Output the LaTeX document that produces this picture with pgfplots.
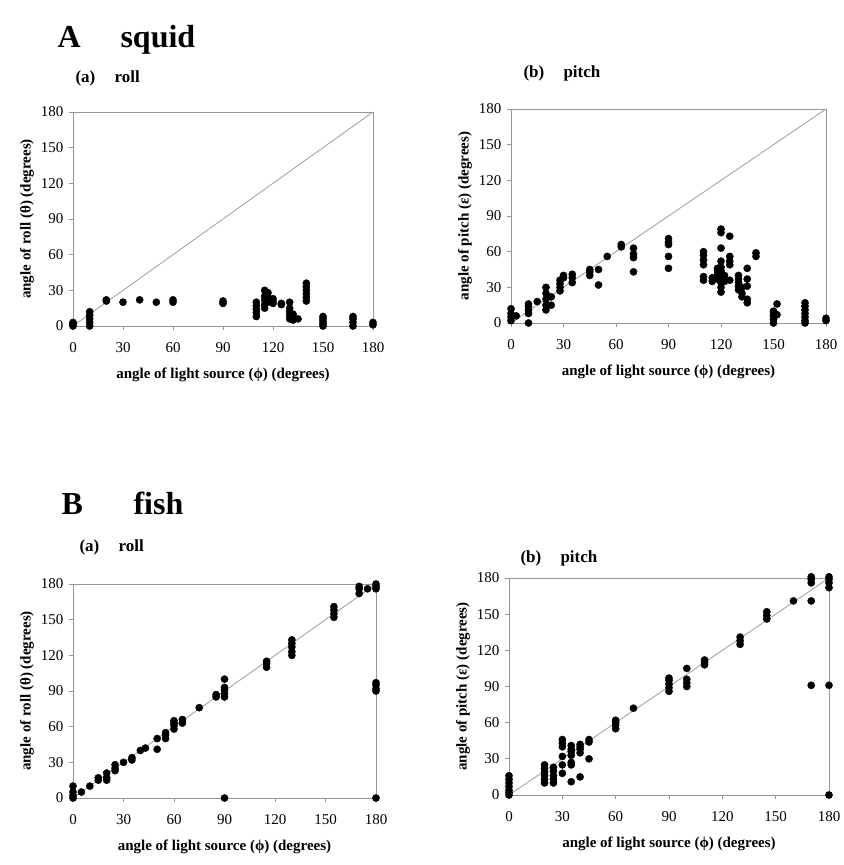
\documentclass[border=0pt]{standalone}
\usepackage{fontspec}
\setmainfont{Liberation Serif}
\usepackage{pgfplots}
\pgfplotsset{compat=1.18}

\definecolor{framegray}{RGB}{150,150,150}
\definecolor{diaggray}{RGB}{165,165,165}

\pgfplotsset{
  panel/.style={
    anchor=south west,
    scale only axis,
    xmin=0, xmax=180, ymin=0, ymax=180,
    xtick={0,30,...,180}, ytick={0,30,...,180},
    axis line style={framegray, line width=0.9pt},
    major tick style={framegray, line width=0.8pt},
    major tick length=4pt,
    tick align=outside,
    xtick pos=bottom, ytick pos=left,
    clip=false,
    /pgf/number format/assume math mode=true,
    tick label style={font=\fontsize{15}{17}\selectfont},
    xticklabel style={anchor=base, yshift=-22pt},
    yticklabel style={anchor=east, xshift=-2pt},
    label style={font=\bfseries\fontsize{15}{17}\selectfont},
    xlabel style={at={(axis description cs:0.5,0)}, anchor=base, yshift=-52pt},
    ylabel style={at={(axis description cs:0,0.5)}, anchor=center, yshift=46pt},
    xlabel={angle of light source (ϕ) (degrees)},
  },
  pts/.style={only marks, mark=*, mark size=3.6pt, black},
  diag/.style={diaggray, line width=0.9pt, no marks},
}

\begin{document}
\begin{tikzpicture}
\path (0pt,0pt) rectangle (839pt,-865pt);

% titles
\node[anchor=base west, font=\bfseries\fontsize{32}{36}\selectfont] at (54pt,-47pt) {A};
\node[anchor=base west, font=\bfseries\fontsize{32}{36}\selectfont] at (117pt,-47pt) {squid};
\node[anchor=base west, font=\bfseries\fontsize{17}{20}\selectfont] at (72pt,-82pt) {(a)};
\node[anchor=base west, font=\bfseries\fontsize{17}{20}\selectfont] at (111pt,-82pt) {roll};
\node[anchor=base west, font=\bfseries\fontsize{17}{20}\selectfont] at (520pt,-77pt) {(b)};
\node[anchor=base west, font=\bfseries\fontsize{17}{20}\selectfont] at (560pt,-77pt) {pitch};
\node[anchor=base west, font=\bfseries\fontsize{32}{36}\selectfont] at (58pt,-514pt) {B};
\node[anchor=base west, font=\bfseries\fontsize{32}{36}\selectfont] at (130pt,-514pt) {fish};
\node[anchor=base west, font=\bfseries\fontsize{17}{20}\selectfont] at (76pt,-551pt) {(a)};
\node[anchor=base west, font=\bfseries\fontsize{17}{20}\selectfont] at (115pt,-551pt) {roll};
\node[anchor=base west, font=\bfseries\fontsize{17}{20}\selectfont] at (517pt,-562pt) {(b)};
\node[anchor=base west, font=\bfseries\fontsize{17}{20}\selectfont] at (557pt,-562pt) {pitch};

% A (a) squid roll
\begin{axis}[panel, at={(73pt,-326pt)}, width=300pt, height=214pt,
  ylabel={angle of roll (θ) (degrees)}]
\addplot[diag] coordinates {(0,0) (180,180)};
\addplot[pts] coordinates {
 (0,0) (0,1) (0,2) (0,3)
 (10,0) (10,3) (10,6) (10,9) (10,12)
 (20,21) (20,22) (30,20) (40,22) (50,20) (60,20) (60,22) (90,19) (90,21)
 (110,8) (110,11) (110,14) (110,17) (110,20)
 (115,15) (115,18) (115,22) (115,25) (115,30)
 (117,28) (117,24) (117,20) (120,21) (120,23) (120,19) (125,18) (125,19)
 (130,6) (130,9) (130,12) (130,15) (130,20) (132,5) (132,8) (132,10) (135,6)
 (140,21) (140,24) (140,27) (140,30) (140,33) (140,36)
 (150,0) (150,2) (150,4) (150,6) (150,8)
 (168,0) (168,3) (168,6) (168,8) (180,1) (180,3)
};
\end{axis}

% A (b) squid pitch
\begin{axis}[panel, at={(511pt,-323pt)}, width=315pt, height=214pt,
  ylabel={angle of pitch (ε) (degrees)}]
\addplot[diag] coordinates {(0,0) (180,180)};
\addplot[pts] coordinates {
 (0,2) (0,5) (0,8) (0,12) (3,6)
 (10,0) (10,8) (10,11) (10,14) (10,16) (15,18)
 (20,11) (20,15) (20,20) (20,25) (20,30) (23,15) (23,22)
 (28,27) (28,30) (28,33) (28,36) (30,40) (30,38)
 (35,34) (35,38) (35,41) (45,40) (45,43) (45,45) (50,32) (50,45)
 (55,56) (63,64) (63,66) (70,43) (70,55) (70,58) (70,63)
 (90,46) (90,56) (90,66) (90,68) (90,71)
 (110,36) (110,39) (110,49) (110,53) (110,57) (110,60) (115,35) (115,38)
 (118,37) (118,41) (118,44) (118,46)
 (120,26) (120,30) (120,34) (120,38) (120,41) (120,44) (120,47) (120,52) (120,63) (120,76) (120,79)
 (122,35) (122,40) (125,36) (125,49) (125,52) (125,56) (125,73)
 (130,28) (130,31) (130,34) (130,37) (130,40) (132,22) (132,25) (132,30)
 (135,17) (135,20) (135,31) (135,37) (135,46) (140,56) (140,59)
 (150,0) (150,3) (150,6) (150,8) (150,10) (152,7) (152,16)
 (168,0) (168,2) (168,5) (168,8) (168,11) (168,14) (168,17) (180,2) (180,4)
};
\end{axis}

% B (a) fish roll
\begin{axis}[panel, at={(73pt,-798pt)}, width=303pt, height=214pt,
  ylabel={angle of roll (θ) (degrees)}]
\addplot[diag] coordinates {(0,0) (180,180)};
\addplot[pts] coordinates {
 (0,0) (0,2) (0,5) (0,10) (5,5) (10,10) (15,15) (15,17)
 (20,15) (20,17) (20,21) (25,23) (25,25) (25,28) (30,30) (35,32) (35,34)
 (40,40) (43,42) (50,41) (50,50) (55,50) (55,53) (55,55)
 (60,58) (60,61) (60,63) (60,65) (65,63) (65,66) (75,76) (85,85) (85,87)
 (90,0) (90,85) (90,88) (90,91) (90,93) (90,100)
 (115,110) (115,113) (115,115)
 (130,120) (130,123) (130,127) (130,130) (130,133)
 (155,152) (155,155) (155,158) (155,161)
 (170,172) (170,176) (170,178) (175,176)
 (180,0) (180,90) (180,92) (180,95) (180,97) (180,176) (180,178) (180,180)
};
\end{axis}

% B (b) fish pitch
\begin{axis}[panel, at={(509pt,-795pt)}, width=320pt, height=217pt,
  ylabel={angle of pitch (ε) (degrees)}]
\addplot[diag] coordinates {(0,0) (180,180)};
\addplot[pts] coordinates {
 (0,0) (0,2) (0,4) (0,7) (0,10) (0,13) (0,16)
 (20,10) (20,13) (20,16) (20,19) (20,22) (20,25)
 (25,10) (25,13) (25,16) (25,20) (25,23)
 (30,18) (30,25) (30,32) (30,40) (30,43) (30,46)
 (35,11) (35,25) (35,27) (35,33) (35,36) (35,38) (35,41)
 (40,15) (40,35) (40,38) (40,40) (40,42) (45,30) (45,44) (45,46)
 (60,55) (60,58) (60,60) (60,62) (70,72)
 (90,86) (90,89) (90,92) (90,95) (90,97)
 (100,90) (100,93) (100,96) (100,105) (110,108) (110,110) (110,112)
 (130,125) (130,128) (130,131) (145,146) (145,149) (145,152) (160,161)
 (170,91) (170,161) (170,176) (170,179) (170,181)
 (180,0) (180,91) (180,172) (180,176) (180,179) (180,181)
};
\end{axis}
\end{tikzpicture}
\end{document}
